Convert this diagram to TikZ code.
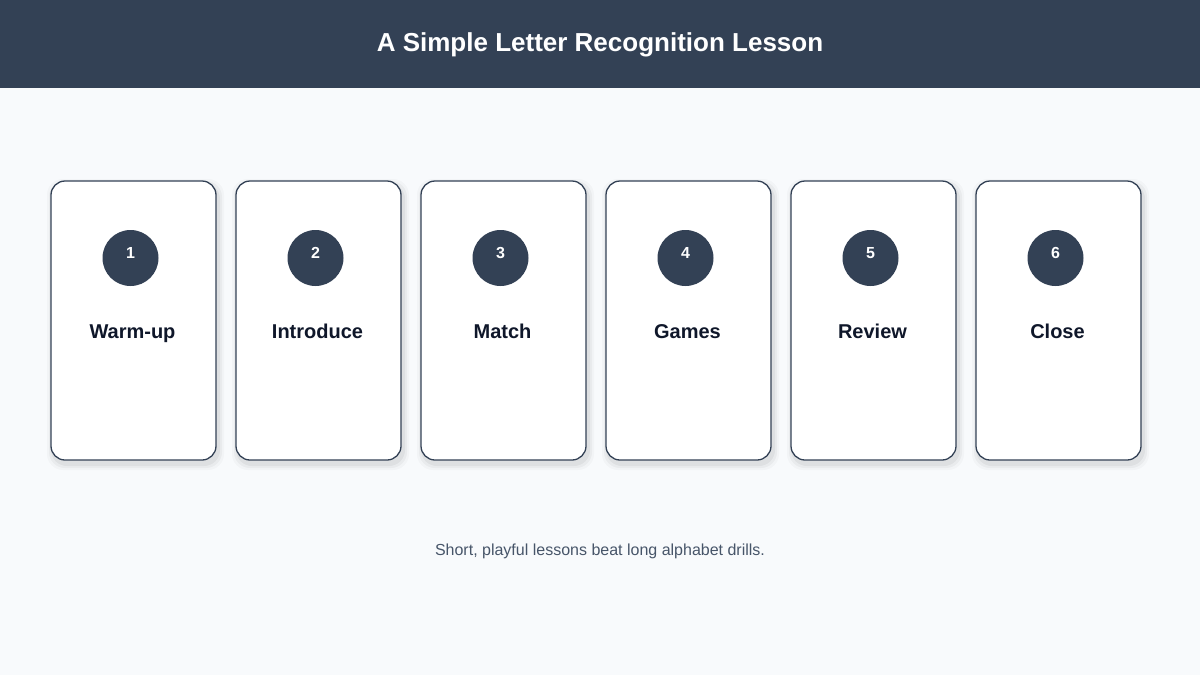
\documentclass[tikz,border=0pt]{standalone}
\usepackage{fontspec}
\setmainfont{Liberation Sans}
\definecolor{slate}{HTML}{334155}
\definecolor{bgc}{HTML}{F8FAFC}
\definecolor{ink}{HTML}{0F172A}
\definecolor{muted}{HTML}{475569}
\tikzset{
  x=1pt,y=-1pt,
  cardbox/.style={draw=slate,line width=1.3pt,fill=white,rounded corners=14pt},
  numdot/.style={circle,fill=slate,minimum size=56pt,inner sep=0pt},
  numtxt/.style={text=white,font=\fontsize{16}{19}\selectfont\bfseries,inner sep=0pt,anchor=base},
  lbltxt/.style={text=ink,font=\fontsize{20}{24}\selectfont\bfseries,inner sep=0pt,anchor=base},
}
\begin{document}
\begin{tikzpicture}
\useasboundingbox (0,0) rectangle (1200,675);
\fill[bgc] (0,0) rectangle (1200,675);
\fill[slate] (0,0) rectangle (1200,88);
\node[text=white,font=\fontsize{26}{31}\selectfont\bfseries,inner sep=0pt,anchor=base] (title) at (600,51) {A Simple Letter Recognition Lesson};
\foreach \i/\lab in {1/Warm-up,2/Introduce,3/Match,4/Games,5/Review,6/Close}{
  \pgfmathsetmacro{\xl}{51+185*(\i-1)}
  \pgfmathsetmacro{\xc}{\xl+82.5}
  \foreach \k/\o in {6/0.025,4/0.035,2/0.045}{
    \fill[black,opacity=\o,rounded corners=16pt] (\xl-\k+2,181-\k+4) rectangle (\xl+165+\k+2,460+\k+4);
  }
  \draw[cardbox] (\xl,181) rectangle (\xl+165,460);
  \node[numdot] (dot\i) at (\xc-3,258) {};
  \node[numtxt] (num\i) at (\xc-3,258) {\i};
  \node[lbltxt] (lab\i) at (\xc-1,338) {\lab};
}
\node[text=muted,font=\fontsize{16}{19}\selectfont,inner sep=0pt,anchor=base] (foot) at (600,555) {Short, playful lessons beat long alphabet drills.};
\end{tikzpicture}
\end{document}
